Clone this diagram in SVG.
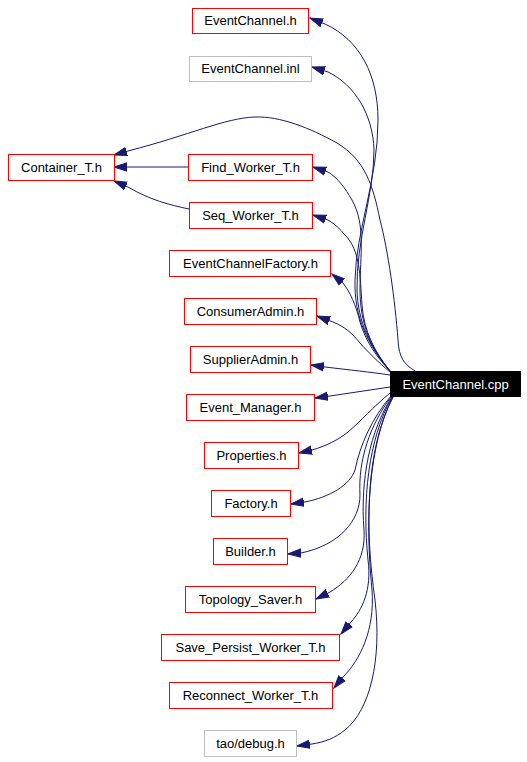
<svg xmlns="http://www.w3.org/2000/svg" width="527" height="762" viewBox="0 0 527 762">
<style>
.n rect{fill:#fff;stroke:#ff0000;stroke-width:1}
.n.g rect{stroke:#bfbfbf}
.n text{font-family:"Liberation Sans",Arial,sans-serif;font-size:13px;fill:#000;text-anchor:middle}
.n.root rect{fill:#000;stroke:#000}
.n.root text{fill:#fff}
#edges path{fill:none;stroke:#191970;stroke-width:1;marker-end:url(#ah)}
</style>
<defs>
<marker id="ah" markerUnits="userSpaceOnUse" markerWidth="14" markerHeight="10" viewBox="0 0 14 10" refX="13" refY="5" orient="auto">
<path d="M0,0.8 L13,5 L0,9.2 z" fill="#191970" stroke="#191970" stroke-width="1"/>
</marker>
</defs>
<rect width="527" height="762" fill="#fff"/>
<g id="edges">
<path d="M390,371 C368,345 354,318 355,280 C356,230 378,180 378,120 C378,75 360,40 325,24 L310,18"/>
<path d="M390,371 C370,347 358,322 357,290 C356,240 374,195 374,150 C373,115 355,85 328,72 L312,67"/>
<path d="M415,371 C404,364 399,358 398,340 C395,300 388,250 380,220 C373,185 365,160 337,143 C310,128 280,116 255,117 C225,118 190,135 128,151 L114,155"/>
<path d="M188,167 L129,167 L114,167"/>
<path d="M189,209 C170,205 150,200 128,187 L114,181"/>
<path d="M390,371 C372,350 360,325 360,290 C360,255 366,225 352,200 C345,188 338,178 328,172 L313,167"/>
<path d="M390,371 C375,352 364,332 362,305 C360,275 360,250 345,235 C340,229 335,224 328,220 L313,215"/>
<path d="M390,371 C376,356 366,342 360,322 C356,305 350,292 343,283 L332,274"/>
<path d="M390,372 C378,362 368,352 360,343 C352,333 345,327 333,322 L317,316"/>
<path d="M390,375 C370,372 350,370 325,367 L311,365"/>
<path d="M390,387 C370,390 350,393 330,396 L315,398"/>
<path d="M390,393 C372,408 362,420 348,432 C338,440 326,446 312,450 L299,453"/>
<path d="M391,396 C372,418 360,445 355,470 C350,485 330,497 305,502 L291,504"/>
<path d="M391,397 C370,425 358,460 360,495 C360,520 340,545 301,553 L288,554"/>
<path d="M392,397 C370,430 360,480 364,530 C366,560 350,580 330,592 L316,599"/>
<path d="M392,397 C368,440 362,500 368,560 C372,590 362,610 351,622 L341,634"/>
<path d="M393,397 C368,445 365,520 372,590 C375,630 360,660 343,677 L334,688"/>
<path d="M393,397 C365,450 365,530 375,600 C382,660 370,710 345,730 C335,738 325,742 312,744 L297,746"/>
</g>
<g id="n_cpp" class="n root"><rect x="390.5" y="371.5" width="130" height="25"/><text x="455.5" y="388.5">EventChannel.cpp</text></g>
<g id="n_ech" class="n"><rect x="192.5" y="8.5" width="116" height="25"/><text x="250.5" y="25.3">EventChannel.h</text></g>
<g id="n_inl" class="n g"><rect x="189.5" y="56.5" width="122" height="25"/><text x="250.5" y="73.3">EventChannel.inl</text></g>
<g id="n_cont" class="n"><rect x="8.5" y="154.5" width="106" height="26"/><text x="61.5" y="172">Container_T.h</text></g>
<g id="n_find" class="n"><rect x="188.5" y="154.5" width="124" height="26"/><text x="250.5" y="172">Find_Worker_T.h</text></g>
<g id="n_seq" class="n"><rect x="189.5" y="202.5" width="123" height="26"/><text x="250.5" y="220">Seq_Worker_T.h</text></g>
<g id="n_ecf" class="n"><rect x="169.5" y="250.5" width="161" height="26"/><text x="250.5" y="268">EventChannelFactory.h</text></g>
<g id="n_cons" class="n"><rect x="184.5" y="298.5" width="132" height="26"/><text x="250.5" y="316">ConsumerAdmin.h</text></g>
<g id="n_supp" class="n"><rect x="190.5" y="346.5" width="120" height="26"/><text x="250.5" y="364">SupplierAdmin.h</text></g>
<g id="n_em" class="n"><rect x="186.5" y="394.5" width="128" height="26"/><text x="250.5" y="412">Event_Manager.h</text></g>
<g id="n_prop" class="n"><rect x="204.5" y="442.5" width="94" height="26"/><text x="251.5" y="460">Properties.h</text></g>
<g id="n_fac" class="n"><rect x="211.5" y="490.5" width="79" height="26"/><text x="251" y="508">Factory.h</text></g>
<g id="n_bld" class="n"><rect x="213.5" y="538.5" width="74" height="26"/><text x="250.5" y="556">Builder.h</text></g>
<g id="n_topo" class="n"><rect x="185.5" y="586.5" width="130" height="26"/><text x="250.5" y="604">Topology_Saver.h</text></g>
<g id="n_spw" class="n"><rect x="161.5" y="634.5" width="178" height="26"/><text x="250.5" y="652">Save_Persist_Worker_T.h</text></g>
<g id="n_rw" class="n"><rect x="169.5" y="682.5" width="163" height="26"/><text x="250.5" y="700">Reconnect_Worker_T.h</text></g>
<g id="n_dbg" class="n g"><rect x="204.5" y="730.5" width="92" height="26"/><text x="250.5" y="748">tao/debug.h</text></g>
</svg>
